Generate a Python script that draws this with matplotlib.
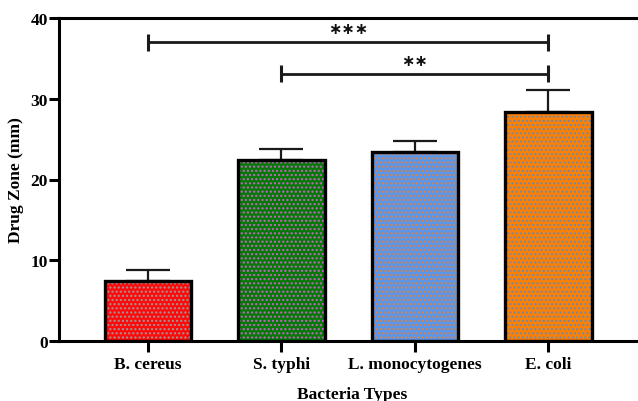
import matplotlib
matplotlib.use("Agg")
import matplotlib.pyplot as plt
import numpy as np

categories = ["B. cereus", "S. typhi", "L. monocytogenes", "E. coli"]
means = [7.4, 22.4, 23.4, 28.4]
errors = [1.4, 1.4, 1.4, 2.7]
bar_colors = ["#FF0A0A", "#037A03", "#5897EC", "#FF8000"]
dot_colors = ["#9A9A9A", "#D060D0", "#E08040", "#6A8AB0"]
yticks = [0, 10, 20, 30, 40]
brackets = [(0, 3, 37.0, "∗∗∗"), (1, 3, 33.1, "∗∗")]

plt.rcParams['font.family'] = ['Liberation Serif', 'DejaVu Serif']
plt.rcParams['font.weight'] = 'bold'
plt.rcParams['hatch.linewidth'] = 1.0

fig = plt.figure(figsize=(6.38, 4.02), dpi=100)
ax = fig.add_axes([59/638, 1-342/402, 1-59/638 + 0.01, (342-19)/402])

x = np.arange(len(categories))
width = 0.65

ax.errorbar(x, means, yerr=[np.zeros(len(errors)), errors], fmt='none',
            ecolor='#1a1a1a', elinewidth=1.6, capsize=16, capthick=1.6, zorder=1)
for xi, m, c, d in zip(x, means, bar_colors, dot_colors):
    ax.bar(xi, m, width=width, color=c, edgecolor=d, hatch='....', linewidth=0, zorder=2)
ax.bar(x, means, width=width, fill=False, edgecolor='black', linewidth=2.4, zorder=3)

for i0, i1, yv, txt in brackets:
    ax.plot([x[i0], x[i1]], [yv, yv], color='#1a1a1a', lw=2.0, solid_capstyle='butt', zorder=4)
    for xi in (x[i0], x[i1]):
        ax.plot([xi, xi], [yv - 1.05, yv + 1.05], color='#1a1a1a', lw=2.2, solid_capstyle='butt', zorder=4)
    ax.text((x[i0] + x[i1]) / 2, yv + 1.65, txt, ha='center', va='center',
            fontsize=11.5, fontweight='bold', family='DejaVu Sans', color='#111111')

ax.set_xlim(-0.667, 3.72)
ax.set_ylim(0, 40)
ax.set_yticks(yticks)
ax.set_xticks(x)
ax.set_xticklabels(categories)

for s in ['left', 'bottom', 'top']:
    ax.spines[s].set_linewidth(2.2)
ax.spines['right'].set_visible(False)

ax.tick_params(axis='y', length=7, width=2.2, pad=1, labelsize=12.5)
ax.tick_params(axis='x', length=8, width=2.2, pad=3, labelsize=12.5)
for lab in ax.get_xticklabels() + ax.get_yticklabels():
    lab.set_fontweight('bold')

ax.set_ylabel("Drug Zone (mm)", fontsize=12.5, fontweight='bold', labelpad=5)
ax.set_xlabel("Bacteria Types", fontsize=12.5, fontweight='bold', labelpad=10)

fig.savefig("out.png", dpi=100)
